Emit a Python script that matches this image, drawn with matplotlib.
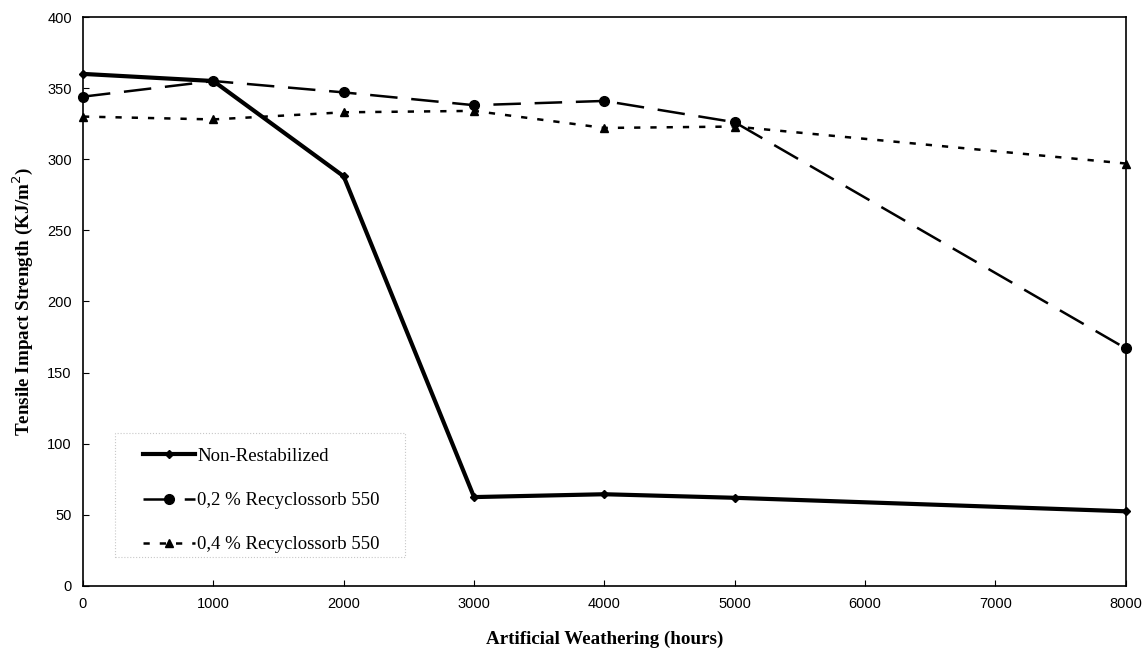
import matplotlib.pyplot as plt
from matplotlib.patches import Rectangle
from matplotlib.ticker import MultipleLocator

# data
hours = [0, 1000, 2000, 3000, 4000, 5000, 8000]
non_restab = [360, 355, 288, 62.5, 64.5, 62, 52.5]
rec_02 = [344, 355, 347, 338, 341, 326, 167]
rec_04 = [330, 328, 333, 334, 322, 323, 297]

plt.rcParams['font.family'] = ['Liberation Sans', 'DejaVu Sans']
serif = ['Liberation Serif', 'DejaVu Serif']

fig = plt.figure(figsize=(11.46, 6.54), dpi=100)
ax = fig.add_axes([0.0724, 0.104, 0.91, 0.870])

ax.plot(hours, non_restab, color='black', linewidth=3, marker='D', markersize=4.5,
        label='Non-Restabilized', clip_on=False, zorder=3)
ax.plot(hours, rec_02, color='black', linewidth=1.8, dashes=(11, 5.5), marker='o', markersize=7,
        label='0,2 % Recyclossorb 550', clip_on=False, zorder=3)
ax.plot(hours, rec_04, color='black', linewidth=1.8, dashes=(2.5, 4), marker='^', markersize=6,
        label='0,4 % Recyclossorb 550', clip_on=False, zorder=3)

ax.set_xlim(0, 8000)
ax.set_ylim(0, 400)
ax.xaxis.set_major_locator(MultipleLocator(1000))
ax.yaxis.set_major_locator(MultipleLocator(50))
ax.tick_params(direction='in', length=4, labelsize=10.5, pad=8)
for s in ax.spines.values():
    s.set_linewidth(1.2)

ax.set_xlabel('Artificial Weathering (hours)', family=serif, fontweight='bold',
              fontsize=13.7, labelpad=14)
ax.set_ylabel('Tensile Impact Strength (KJ/m$^2$)', family=serif, fontweight='bold',
              fontsize=13.7, labelpad=9)

# faint dotted box around the legend, as in the original
ax.add_patch(Rectangle((0.0307, 0.051), 0.278, 0.218, transform=ax.transAxes,
                       fill=False, edgecolor='#c8c8c8', linestyle=':', linewidth=0.8))

ax.legend(loc='upper left', bbox_to_anchor=(0.0575, 0.243), frameon=False,
          prop={'family': serif, 'size': 13.5}, handlelength=2.8,
          handletextpad=0.1, labelspacing=1.45, borderpad=0, borderaxespad=0)

fig.savefig('out.png', dpi=100)
